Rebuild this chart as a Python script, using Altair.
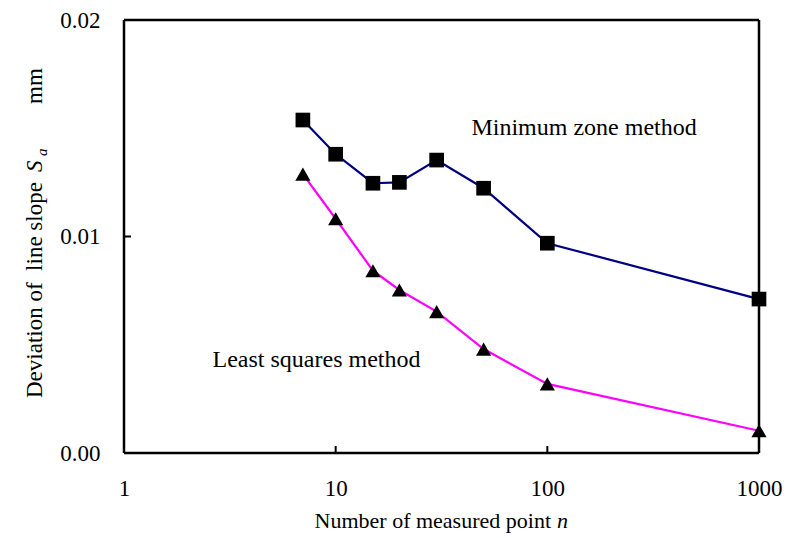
import altair as alt
import pandas as pd

# ---- data ----
n_points = [7, 10, 15, 20, 30, 50, 100, 1000]
min_zone = [0.01538, 0.0138, 0.01246, 0.0125, 0.01353, 0.01223, 0.00969, 0.00711]
least_sq = [0.01288, 0.01082, 0.00842, 0.00753, 0.00653, 0.0048, 0.00319, 0.00103]

x_ticks = [1, 10, 100, 1000]
y_ticks = [0.0, 0.01, 0.02]
x_inner_ticks = [10, 100]
y_inner_ticks = [0.01]

ann_text = ["Minimum zone method", "Least squares method"]
ann_x = [43.8, 2.62]
ann_y = [0.01469, 0.00397]

W, H = 635, 433
FONT = "Times New Roman, Liberation Serif, serif"
FS = 23

df_mz = pd.DataFrame({"n": n_points, "v": min_zone})
df_ls = pd.DataFrame({"n": n_points, "v": least_sq})

xscale = alt.Scale(type="log", domain=[1, 1000], nice=False)
yscale = alt.Scale(domain=[0, 0.02], nice=False, zero=False)

xaxis = alt.Axis(values=x_ticks, format="d", title=None, grid=False, ticks=False,
                 domain=False, labelFont=FONT, labelFontSize=FS, labelColor="black",
                 labelPadding=24, labelFlush=False)
yaxis = alt.Axis(values=y_ticks, format=".2f", title=None, grid=False, ticks=False,
                 domain=False, labelFont=FONT, labelFontSize=FS, labelColor="black",
                 labelPadding=24)

X = alt.X("n:Q", scale=xscale, axis=xaxis)
Y = alt.Y("v:Q", scale=yscale, axis=yaxis)

line_mz = alt.Chart(df_mz).mark_line(color="#000080", strokeWidth=2.2).encode(x=X, y=Y)
pts_mz = alt.Chart(df_mz).mark_point(shape="square", filled=True, color="black",
                                     size=215, opacity=1).encode(x="n:Q", y="v:Q")
line_ls = alt.Chart(df_ls).mark_line(color="#FF00FF", strokeWidth=2.2).encode(x="n:Q", y="v:Q")
pts_ls = alt.Chart(df_ls).mark_point(shape="triangle-up", filled=True, color="black",
                                     size=230, opacity=1).encode(x="n:Q", y="v:Q")

ann = alt.Chart(pd.DataFrame({"t": ann_text, "n": ann_x, "v": ann_y})).mark_text(
    font=FONT, fontSize=24, align="left", baseline="alphabetic", color="black"
).encode(x="n:Q", y="v:Q", text="t:N")

# inner tick marks
xt = alt.Chart(pd.DataFrame({"n": x_inner_ticks})).mark_rule(color="black", strokeWidth=2).encode(
    x="n:Q", y=alt.value(H), y2=alt.value(H - 7))
yt = alt.Chart(pd.DataFrame({"v": y_inner_ticks})).mark_rule(color="black", strokeWidth=2).encode(
    y="v:Q", x=alt.value(0), x2=alt.value(7))

# plot frame
frame_df = pd.DataFrame({"k": [0]})
def rule(x, x2, y, y2):
    return alt.Chart(frame_df).mark_rule(color="black", strokeWidth=2.5).encode(
        x=alt.value(x), x2=alt.value(x2), y=alt.value(y), y2=alt.value(y2))
frame = [rule(0, W, 0, 0), rule(0, W, H, H), rule(0, 0, 0, H), rule(W, W, 0, H)]

def txt(s, x, y, **kw):
    base = dict(font=FONT, fontSize=FS, color="black", baseline="alphabetic", align="left")
    base.update(kw)
    return alt.Chart(pd.DataFrame({"t": [s]})).mark_text(**base).encode(
        text="t:N", x=alt.value(x), y=alt.value(y))

# x title with italic n
xt1 = txt("Number of measured point", 427, 508, align="right", fontSize=22)
xt2 = txt("n", 433, 508, fontStyle="italic", fontSize=22)

# y title (rotated) with italic S and subscript a
YB = -82
yt1 = txt("Deviation of\u00a0 line slope", YB, 378, angle=270)
yt2 = txt("S", YB, 152, angle=270, fontStyle="italic")
yt3 = txt("a", YB + 5, 136, angle=270, fontStyle="italic", fontSize=15)
yt4 = txt("mm", YB, 84, angle=270)

chart = alt.layer(
    line_mz, line_ls, pts_mz, pts_ls, ann, xt, yt, *frame, xt1, xt2, yt1, yt2, yt3, yt4
).properties(
    width=W, height=H,
    autosize=alt.AutoSizeParams(type="none"),
    padding={"left": 124, "top": 20, "right": 38, "bottom": 85},
).configure_view(
    strokeWidth=0
).configure(background="white")

chart.save("out.html", embed_options={"renderer": "svg", "actions": False})
